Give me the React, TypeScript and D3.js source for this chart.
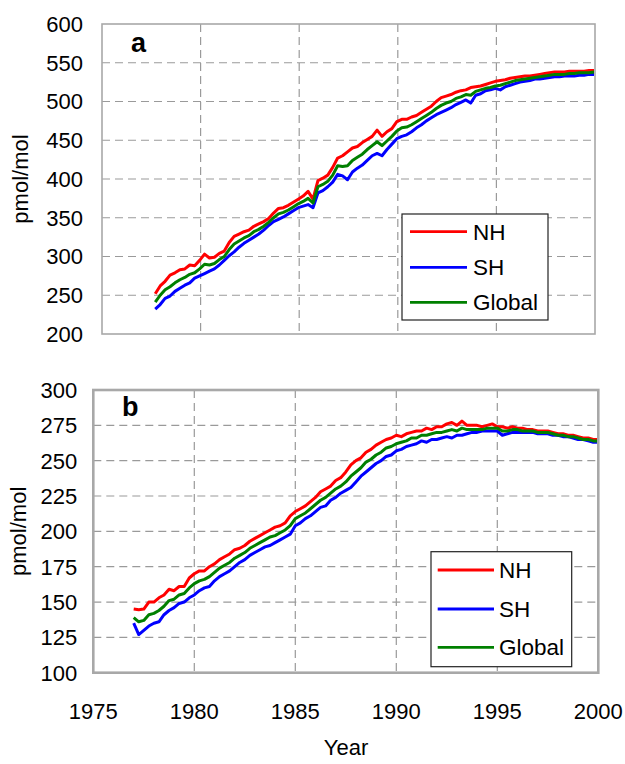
import React from 'react';
import * as d3 from 'd3';

// ---------- DATA (quarterly samples) ----------
const STEP = 0.25;
const topStart = 1977.7;
const botStart = 1977.0;

const seriesNames = ['NH', 'SH', 'Global'];
const seriesColors = ['#ff0000', '#0000ff', '#008000'];

const xTicks = [1975, 1980, 1985, 1990, 1995, 2000];
const topYTicks = [200, 250, 300, 350, 400, 450, 500, 550, 600];
const botYTicks = [100, 125, 150, 175, 200, 225, 250, 275, 300];

// Panel a
const topNH = [
  252, 262, 268, 276, 279, 283, 284, 289, 288, 295,
  303, 298, 299, 304, 307, 318, 326, 329, 332, 334,
  339, 342, 345, 349, 356, 362, 363, 366, 370, 374,
  378, 384, 374, 398, 401, 405, 415, 427, 430, 435,
  440, 442, 447, 451, 455, 463, 455, 461, 465, 474,
  477, 477, 480, 482, 486, 490, 494, 500, 505, 507,
  509, 512, 514, 515, 518, 519, 520, 522, 524, 526,
  527, 528, 530, 531, 532, 533, 533, 534, 535, 536,
  537, 538, 538, 538, 539, 539, 539, 539, 540, 540,
];
const topSH = [
  232, 238, 246, 249, 255, 259, 263, 266, 272, 275,
  278, 281, 284, 289, 295, 301, 306, 312, 317, 321,
  325, 329, 334, 340, 345, 348, 351, 355, 359, 363,
  365, 367, 363, 382, 385, 390, 396, 406, 404, 399,
  409, 414, 418, 424, 430, 433, 430, 438, 445, 452,
  455, 457, 461, 466, 470, 475, 479, 483, 486, 489,
  492, 496, 499, 502, 498, 508, 510, 514, 515, 517,
  515, 519, 521, 523, 525, 526, 527, 529, 529, 530,
  531, 532, 532, 533, 533, 533, 534, 534, 535, 535,
];
const topGlobal = [
  241, 250, 257, 261, 266, 270, 273, 277, 279, 284,
  290, 289, 291, 296, 300, 309, 316, 320, 324, 327,
  332, 335, 339, 344, 350, 355, 357, 360, 364, 368,
  371, 375, 369, 390, 393, 397, 405, 417, 416, 417,
  424, 428, 432, 438, 443, 448, 443, 449, 455, 462,
  466, 467, 470, 474, 478, 482, 486, 491, 495, 498,
  500, 504, 506, 509, 508, 513, 515, 517, 518, 520,
  521, 523, 525, 527, 528, 529, 530, 531, 532, 533,
  534, 535, 535, 535, 536, 536, 537, 537, 537, 538,
];

// Panel b
const botNH = [
  145, 144.5, 145, 150, 150, 153, 155, 159, 158, 161,
  161, 167, 170, 172, 172, 175, 177, 180, 182, 184,
  187, 188, 190, 193, 195, 197, 199, 201, 203, 204,
  206, 211, 214, 216, 218, 221, 224, 228, 230, 232,
  236, 238, 242, 247, 250, 252, 256, 258, 261, 263,
  265, 266, 268, 267, 269, 270, 271, 271, 273, 272,
  274, 274, 276, 277, 275, 278, 275, 275, 275, 274,
  275, 276, 274, 274, 273, 274, 273, 273, 272, 272,
  271, 271, 271, 270, 269, 269, 268, 268, 267, 266,
  266, 265, 265,
];
const botSH = [
  135, 127, 130, 133, 135, 136, 141, 144, 146, 149,
  150, 153, 155, 158, 160, 161, 165, 168, 170, 172,
  175, 178, 180, 183, 185, 187, 189, 190, 192, 194,
  196, 198, 204, 206, 209, 211, 214, 217, 218, 222,
  224, 227, 229, 231, 235, 239, 242, 245, 248, 250,
  253, 254, 257, 258, 260, 261, 262, 264, 263, 265,
  265, 266, 267, 266, 268, 268, 269, 270, 270, 271,
  271, 271, 271, 268, 269, 270, 270, 270, 270, 270,
  269, 269, 269, 268, 268, 267, 267, 266, 265, 265,
  264, 263, 263,
];
const botGlobal = [
  139, 136, 137, 141, 142, 144, 147, 151, 152, 155,
  156, 160, 163, 165, 166, 168, 171, 174, 176, 178,
  181, 183, 185, 188, 190, 192, 194, 196, 197, 199,
  201, 204, 209, 211, 213, 216, 219, 222, 224, 227,
  230, 232, 235, 239, 242, 245, 249, 251, 254, 256,
  259, 260, 262, 263, 264, 266, 266, 268, 268, 269,
  270, 270, 271, 272, 271, 273, 272, 272, 272, 272,
  273, 273, 273, 271, 271, 272, 272, 271, 271, 271,
  270, 270, 270, 269, 268, 268, 267, 267, 266, 265,
  265, 264, 264,
];

const FONT = '"Liberation Sans", Arial, sans-serif';

type PanelProps = {
  id: string;
  left: number; right: number; top: number; bottom: number;
  yDomain: [number, number];
  yTicks: number[];
  start: number;
  series: number[][];
  label: string;
  labelX: number; labelY: number;
  legend: { x: number; y: number; w: number; h: number; lineX1: number; lineX2: number; textX: number; rows: number[] };
  showXLabels: boolean;
  xLabelY: number;
  yLabelGap: number;
  borderWidth: number;
  titleX: number;
};

function Panel(p: PanelProps) {
  const x = d3.scaleLinear().domain([1975, 2000]).range([p.left, p.right]);
  const y = d3.scaleLinear().domain(p.yDomain).range([p.bottom, p.top]);
  const line = d3.line<number>()
    .x((_, i) => x(p.start + i * STEP))
    .y((d) => y(d));
  const innerX = xTicks.filter((t) => t > 1975 && t < 2000);
  const innerY = p.yTicks.filter((t) => t > p.yDomain[0] && t < p.yDomain[1]);
  const cy = (p.top + p.bottom) / 2;
  return (
    <g>
      <defs>
        <clipPath id={p.id}>
          <rect x={p.left} y={p.top} width={p.right - p.left} height={p.bottom - p.top} />
        </clipPath>
      </defs>
      <rect x={p.left} y={p.top} width={p.right - p.left} height={p.bottom - p.top} fill="#fff" />
      {innerY.map((t) => (
        <line key={'gy' + t} x1={p.left} x2={p.right} y1={y(t)} y2={y(t)}
          stroke="#9a9a9a" strokeWidth={1.2} strokeDasharray="8,5" />
      ))}
      {innerX.map((t) => (
        <line key={'gx' + t} x1={x(t)} x2={x(t)} y1={p.top} y2={p.bottom}
          stroke="#9a9a9a" strokeWidth={1.2} strokeDasharray="8,5" />
      ))}
      <g clipPath={`url(#${p.id})`}>
        {p.series.map((s, i) => (
          <path key={i} d={line(s) || ''} fill="none" stroke={seriesColors[i]}
            strokeWidth={3} strokeLinejoin="round" />
        ))}
      </g>
      <rect x={p.left} y={p.top} width={p.right - p.left} height={p.bottom - p.top}
        fill="none" stroke="#a8a8a8" strokeWidth={p.borderWidth} />
      {p.yTicks.map((t) => (
        <text key={'yl' + t} x={p.left - p.yLabelGap} y={y(t)} dy="0.36em"
          textAnchor="end" fontSize={22} fontFamily={FONT} fill="#000">{t}</text>
      ))}
      {p.showXLabels && xTicks.map((t) => (
        <text key={'xl' + t} x={x(t)} y={p.xLabelY} textAnchor="middle"
          fontSize={22} fontFamily={FONT} fill="#000">{t}</text>
      ))}
      <text x={p.labelX} y={p.labelY} fontSize={27} fontWeight="bold" fontFamily={FONT}>{p.label}</text>
      <text transform={`translate(${p.titleX},${cy}) rotate(-90)`} textAnchor="middle"
        fontSize={22} fontFamily={FONT} fill="#000">pmol/mol</text>
      <rect x={p.legend.x} y={p.legend.y} width={p.legend.w} height={p.legend.h}
        fill="#fff" stroke="#222" strokeWidth={1.2} />
      {seriesNames.map((n, i) => (
        <g key={n}>
          <line x1={p.legend.lineX1} x2={p.legend.lineX2} y1={p.legend.rows[i]} y2={p.legend.rows[i]}
            stroke={seriesColors[i]} strokeWidth={2.8} />
          <text x={p.legend.textX} y={p.legend.rows[i]} dy="0.36em" fontSize={22.5}
            fontFamily={FONT} fill="#000">{n}</text>
        </g>
      ))}
    </g>
  );
}

export default function App() {
  return (
    <svg width={625} height={764} style={{ position: 'absolute', left: 0, top: 0, background: '#fff' }}>
      <Panel
        id="clipA"
        left={102} right={595} top={24} bottom={334}
        yDomain={[200, 600]} yTicks={topYTicks}
        start={topStart} series={[topNH, topSH, topGlobal]}
        label="a" labelX={131} labelY={52}
        legend={{ x: 402, y: 214, w: 146, h: 106, lineX1: 410, lineX2: 467, textX: 473, rows: [231.7, 267.3, 302.3] }}
        showXLabels={false} xLabelY={0}
        yLabelGap={19} borderWidth={1.6} titleX={28}
      />
      <Panel
        id="clipB"
        left={93.3} right={598.3} top={390} bottom={672.7}
        yDomain={[100, 300]} yTicks={botYTicks}
        start={botStart} series={[botNH, botSH, botGlobal]}
        label="b" labelX={122} labelY={415.5}
        legend={{ x: 431, y: 551.7, w: 140.7, h: 115, lineX1: 437.7, lineX2: 494, textX: 499, rows: [570, 609, 647.3] }}
        showXLabels={true} xLabelY={719}
        yLabelGap={16} borderWidth={2.6} titleX={26}
      />
      <text x={346} y={755} textAnchor="middle" fontSize={22} fontFamily={FONT} fill="#000">Year</text>
    </svg>
  );
}
